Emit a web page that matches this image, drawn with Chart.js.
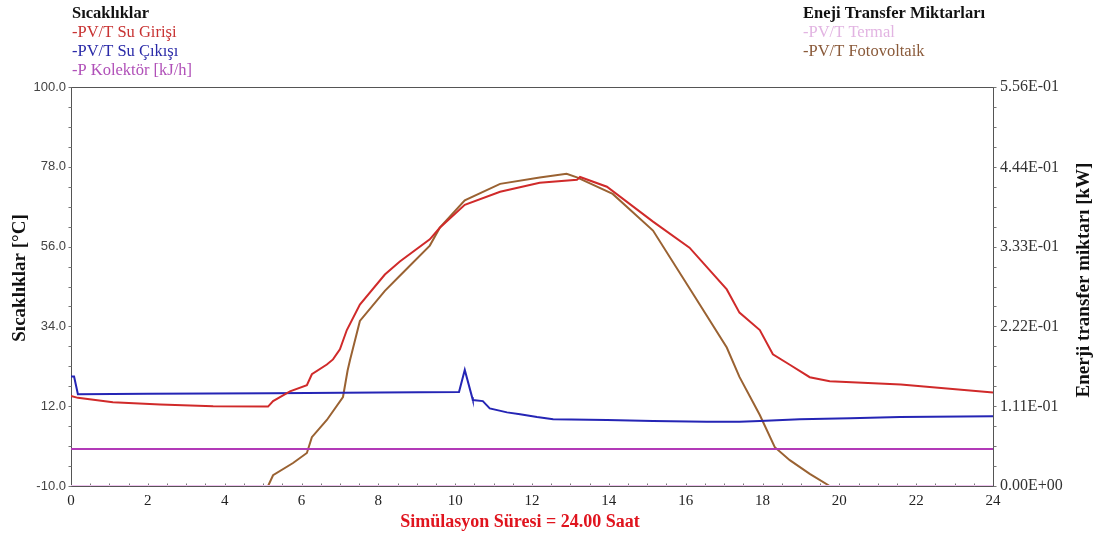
<!DOCTYPE html>
<html>
<head>
<meta charset="utf-8">
<script src="https://cdn.jsdelivr.net/npm/chart.js@4/dist/chart.umd.min.js"></script>
<style>
  html, body { margin: 0; padding: 0; background: #fff; }
  #wrap { width: 1103px; height: 543px; position: relative; }
</style>
</head>
<body>
<div id="wrap"><canvas id="chart"></canvas></div>
<script>
// hours on the x axis, temperatures [°C] and energy [kW]
const girisHours = [0, 0.18, 1.09, 2.32, 3.7, 5.13, 5.26, 5.7, 6.14, 6.27, 6.66, 6.82, 7.0, 7.18, 7.52, 8.17, 8.56, 9.34, 9.6, 10.25, 11.17, 12.2, 13.17, 13.25, 13.95, 15.15, 16.1, 17.07, 17.4, 17.93, 18.27, 18.7, 19.23, 19.75, 21.6, 24];
const girisTemps = [14.8, 14.3, 13.1, 12.5, 12.0, 11.9, 13.4, 16.1, 17.8, 20.8, 23.5, 24.9, 27.7, 33.0, 40.0, 48.3, 51.9, 58.0, 61.2, 67.5, 71.1, 73.6, 74.4, 75.2, 72.5, 62.9, 55.7, 44.2, 37.8, 33.0, 26.3, 23.5, 20.0, 18.9, 18.0, 15.8];

const cikisHours = [0, 0.08, 0.18, 2.0, 5.2, 8.0, 10.1, 10.25, 10.44, 10.46, 10.72, 10.9, 11.35, 11.69, 12.13, 12.55, 13.95, 15.15, 16.55, 17.4, 17.93, 18.97, 20.28, 21.58, 24];
const cikisTemps = [20.2, 20.2, 15.3, 15.4, 15.6, 15.8, 15.9, 22.0, 14.5, 13.7, 13.4, 11.4, 10.3, 9.8, 9.0, 8.4, 8.2, 7.9, 7.7, 7.7, 7.9, 8.4, 8.7, 9.0, 9.2];

const kolektorHours = [0, 24];
const kolektorValues = [0.2, 0.2];

const termalHours = [0, 24];
const termalValues = [0, 0];

const fotoHours = [0, 5.13, 5.26, 5.78, 6.14, 6.27, 6.66, 7.08, 7.2, 7.26, 7.52, 8.17, 8.56, 9.34, 9.6, 10.25, 11.17, 12.2, 12.9, 13.17, 14.1, 15.15, 16.19, 17.07, 17.4, 17.93, 18.32, 18.71, 19.23, 19.75, 24];
const fotoValues = [0, 0, 0.015, 0.032, 0.046, 0.068, 0.092, 0.124, 0.161, 0.175, 0.23, 0.272, 0.293, 0.335, 0.36, 0.398, 0.421, 0.43, 0.435, 0.43, 0.407, 0.356, 0.268, 0.193, 0.152, 0.099, 0.054, 0.036, 0.017, 0, 0];

const xTicks = [0, 2, 4, 6, 8, 10, 12, 14, 16, 18, 20, 22, 24];
const leftTicks = [-10, 12, 34, 56, 78, 100];
const rightTicks = [0, 0.111, 0.222, 0.333, 0.444, 0.556];

const xTitle = 'Simülasyon Süresi = 24.00 Saat';
const leftTitle = 'Sıcaklıklar [°C]';
const rightTitle = 'Enerji transfer miktarı [kW]';

const toPoints = (xs, ys) => xs.map((x, i) => ({ x: x, y: ys[i] }));

const sciLabel = (v) => {
  const [m, e] = v.toExponential(2).split('e');
  const n = parseInt(e, 10);
  return m + 'E' + (n < 0 ? '-' : '+') + String(Math.abs(n)).padStart(2, '0');
};

const serif = '"Liberation Serif", "DejaVu Serif", serif';
const sans = '"Liberation Sans", Arial, sans-serif';

// frame + minor ticks under the lines, legend groups and titles on top
const plotterPlugin = {
  id: 'plotter',
  beforeDatasetsDraw(chart) {
    const ctx = chart.ctx;
    const a = chart.chartArea;
    const sx = chart.scales.x;
    const sy = chart.scales.y;
    ctx.save();
    ctx.strokeStyle = '#555';
    ctx.lineWidth = 1;
    const L = Math.round(a.left) + 0.5, T = Math.round(a.top) + 0.5;
    const R = Math.round(a.right) + 0.5, B = Math.round(a.bottom) + 0.5;
    ctx.strokeRect(L, T, R - L, B - T);

    ctx.strokeStyle = '#777';
    ctx.beginPath();
    for (let h = 0.5; h < 24; h += 0.5) {
      const px = Math.round(sx.getPixelForValue(h)) + 0.5;
      ctx.moveTo(px, B);
      ctx.lineTo(px, B - 3);
    }
    for (let t = -10; t <= 100.01; t += 5.5) {
      const py = Math.round(sy.getPixelForValue(t)) + 0.5;
      ctx.moveTo(L, py);
      ctx.lineTo(L - 3, py);
      ctx.moveTo(R, py);
      ctx.lineTo(R + 3, py);
    }
    ctx.stroke();
    ctx.restore();
  },
  afterDraw(chart) {
    const ctx = chart.ctx;
    const ds = chart.data.datasets;
    const groups = [
      { x: 72, title: 'Sıcaklıklar', items: [0, 1, 2] },
      { x: 803, title: 'Eneji Transfer Miktarları', items: [3, 4] },
    ];
    ctx.save();
    ctx.textBaseline = 'middle';
    ctx.textAlign = 'left';
    groups.forEach((g) => {
      ctx.font = 'bold 16.5px ' + serif;
      ctx.fillStyle = '#111';
      ctx.fillText(g.title, g.x, 14);
      ctx.font = '16.5px ' + serif;
      g.items.forEach((idx, k) => {
        ctx.fillStyle = ds[idx].textColor;
        ctx.fillText('-' + ds[idx].label, g.x, 33 + k * 19);
      });
    });

    ctx.textAlign = 'center';
    ctx.font = 'bold 18px ' + serif;
    ctx.fillStyle = '#e0141e';
    ctx.fillText(xTitle, 520, 522);
    ctx.font = 'bold 19px ' + serif;
    ctx.fillStyle = '#111';
    ctx.save();
    ctx.translate(20, 278);
    ctx.rotate(-Math.PI / 2);
    ctx.fillText(leftTitle, 0, 0);
    ctx.restore();
    ctx.save();
    ctx.translate(1084, 280);
    ctx.rotate(-Math.PI / 2);
    ctx.fillText(rightTitle, 0, 0);
    ctx.restore();
    ctx.restore();
  },
};

new Chart(document.getElementById('chart'), {
  type: 'line',
  data: {
    datasets: [
      { label: 'PV/T Su Girişi', data: toPoints(girisHours, girisTemps), borderColor: '#d02a2a', textColor: '#c83232', yAxisID: 'y', borderWidth: 2 },
      { label: 'PV/T Su Çıkışı', data: toPoints(cikisHours, cikisTemps), borderColor: '#2525b5', textColor: '#2a2aa8', yAxisID: 'y', borderWidth: 2 },
      { label: 'P Kolektör [kJ/h]', data: toPoints(kolektorHours, kolektorValues), borderColor: '#b23ab8', textColor: '#b050b8', yAxisID: 'y', borderWidth: 2 },
      { label: 'PV/T Termal', data: toPoints(termalHours, termalValues), borderColor: '#efc4ef', textColor: '#e2b4e2', yAxisID: 'y2', borderWidth: 2 },
      { label: 'PV/T Fotovoltaik', data: toPoints(fotoHours, fotoValues), borderColor: '#9a6232', textColor: '#8a5a3a', yAxisID: 'y2', borderWidth: 2 },
    ],
  },
  options: {
    responsive: true,
    maintainAspectRatio: false,
    animation: false,
    layout: { padding: { top: 87, left: 6, right: 8, bottom: 8 } },
    elements: { point: { radius: 0 }, line: { tension: 0 } },
    plugins: { legend: { display: false }, tooltip: { enabled: false } },
    scales: {
      x: {
        type: 'linear',
        min: 0,
        max: 24,
        afterBuildTicks: (s) => { s.ticks = xTicks.map((v) => ({ value: v })); },
        afterFit: (s) => { s.height = 49; },
        grid: { display: false, drawTicks: false },
        border: { display: false },
        ticks: { color: '#222', font: { family: serif, size: 15 }, padding: 6, maxRotation: 0 },
      },
      y: {
        position: 'left',
        min: -10,
        max: 100,
        afterBuildTicks: (s) => { s.ticks = leftTicks.map((v) => ({ value: v })); },
        afterFit: (s) => { s.width = 65; },
        grid: { display: false, drawTicks: false },
        border: { display: false },
        ticks: { color: '#444', font: { family: sans, size: 13 }, padding: 5, callback: (v) => v.toFixed(1) },
      },
      y2: {
        position: 'right',
        min: 0,
        max: 0.556,
        afterBuildTicks: (s) => { s.ticks = rightTicks.map((v) => ({ value: v })); },
        afterFit: (s) => { s.width = 102; },
        grid: { display: false, drawTicks: false },
        border: { display: false },
        ticks: { color: '#333', font: { family: serif, size: 16 }, padding: 7, callback: (v) => sciLabel(v) },
      },
    },
  },
  plugins: [plotterPlugin],
});
</script>
</body>
</html>
